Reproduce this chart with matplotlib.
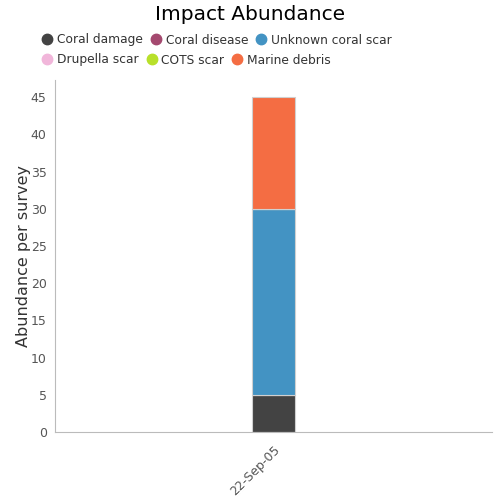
import matplotlib.pyplot as plt
from matplotlib.lines import Line2D

dates = ['22-Sep-05']
series = ['Coral damage', 'Coral disease', 'Unknown coral scar',
          'Drupella scar', 'COTS scar', 'Marine debris']
colors = ['#434343', '#a4496f', '#4393c3', '#f1b6da', '#b8e02a', '#f46d43']
values = {
    'Coral damage': [5],
    'Coral disease': [0],
    'Unknown coral scar': [25],
    'Drupella scar': [0],
    'COTS scar': [0],
    'Marine debris': [15],
}

fig = plt.figure(figsize=(5, 5), dpi=100)
ax = fig.add_axes([0.11, 0.136, 0.874, 0.704])

bottom = [0] * len(dates)
for name, c in zip(series, colors):
    v = values[name]
    ax.bar(range(len(dates)), v, width=0.1, bottom=bottom, color=c,
           edgecolor='#d0d0d0', linewidth=0.8)
    bottom = [b + x for b, x in zip(bottom, v)]

ax.set_xlim(-0.5, 0.5)
ax.set_ylim(0, 47.3)
ax.set_yticks(range(0, 50, 5))
ax.set_xticks(range(len(dates)))
ax.set_xticklabels(dates, rotation=45, ha='right', rotation_mode='anchor')
ax.tick_params(axis='y', length=0, labelsize=9, colors='#555555', pad=6)
ax.tick_params(axis='x', length=0, labelsize=9, colors='#555555', pad=8)
for s in ['top', 'right']:
    ax.spines[s].set_visible(False)
for s in ['left', 'bottom']:
    ax.spines[s].set_color('#bbbbbb')
ax.set_ylabel('Abundance per survey', fontsize=11.5, color='#333333', labelpad=0)

fig.text(0.5, 0.972, 'Impact Abundance', ha='center', va='center', fontsize=14.5)

handles = [Line2D([], [], marker='o', ls='', color=c, markersize=7.5, label=n)
           for n, c in zip(series, colors)]
opts = dict(loc='center left', ncol=3, frameon=False, fontsize=8.8,
            handlelength=0.7, handletextpad=0.45, columnspacing=0.7,
            borderpad=0, borderaxespad=0, labelcolor='#333333')
fig.legend(handles=handles[:3], bbox_to_anchor=(0.086, 0.92), **opts)
fig.legend(handles=handles[3:], bbox_to_anchor=(0.086, 0.88), **opts)

fig.savefig('out.png', dpi=100)
